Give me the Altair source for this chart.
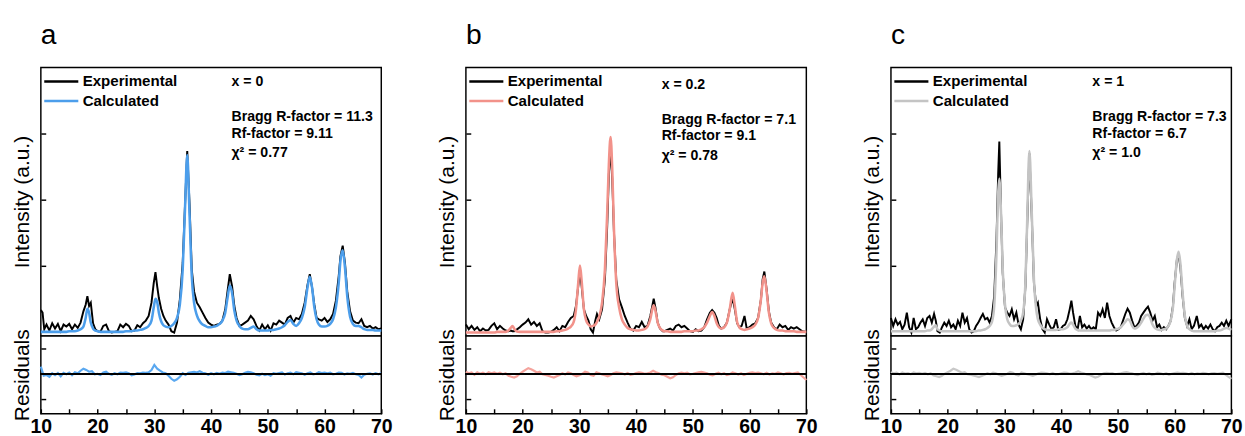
import altair as alt
import pandas as pd

FONT = "Liberation Sans"

# ---------------- panel a (x = 0) ----------------
A_X = [10.0, 10.3, 10.6, 11.0, 11.5, 12.0, 12.5, 13.0, 13.5, 14.0,
       14.5, 15.0, 15.5, 16.0, 16.5, 17.0, 17.5, 17.9, 18.2, 18.5,
       18.8, 19.2, 19.6, 20.0, 20.5, 21.0, 21.5, 22.0, 22.5, 23.0,
       23.5, 24.0, 24.5, 25.0, 25.5, 26.0, 26.5, 27.0, 27.5, 28.0,
       28.5, 29.0, 29.5, 29.9, 30.2, 30.5, 30.8, 31.2, 31.6, 32.0,
       32.5, 33.0, 33.5, 34.0, 34.5, 35.0, 35.4, 35.8, 36.2, 36.6,
       37.0, 37.5, 38.0, 38.5, 39.0, 39.5, 40.0, 40.5, 41.0, 41.5,
       42.0, 42.5, 42.9, 43.3, 43.7, 44.1, 44.5, 45.0, 45.5, 46.0,
       46.5, 47.0, 47.5, 48.0, 48.5, 49.0, 49.5, 50.0, 50.5, 51.0,
       51.5, 52.0, 52.5, 53.0, 53.5, 54.0, 54.5, 55.0, 55.5, 56.0,
       56.5, 57.0, 57.4, 57.8, 58.2, 58.6, 59.0, 59.5, 60.0, 60.5,
       61.0, 61.5, 62.0, 62.5, 62.8, 63.2, 63.6, 64.0, 64.5, 65.0,
       65.5, 66.0, 66.5, 67.0, 67.5, 68.0, 68.5, 69.0, 69.5, 70.0]
A_EXP = [0.34, 0.30, 0.05, 0.12, 0.03, 0.14, 0.06, 0.13, 0.02, 0.12,
         0.09, 0.13, 0.05, 0.12, 0.07, 0.15, 0.32, 0.42, 0.55, 0.40,
         0.45, 0.14, 0.05, 0.02, 0.01, 0.10, 0.12, 0.02, 0.00, 0.01,
         0.02, 0.12, 0.08, 0.13, 0.10, 0.02, 0.03, 0.11, 0.08, 0.14,
         0.18, 0.25, 0.45, 0.75, 0.91, 0.70, 0.52, 0.36, 0.25, 0.18,
         0.12, 0.02, 0.00, 0.15, 0.50, 1.05, 1.90, 2.74, 1.95, 0.95,
         0.62, 0.45, 0.38, 0.30, 0.22, 0.15, 0.12, 0.10, 0.12, 0.13,
         0.18, 0.35, 0.62, 0.88, 0.70, 0.40, 0.22, 0.10, 0.12, 0.15,
         0.18, 0.25, 0.20, 0.10, 0.03, 0.12, 0.05, 0.11, 0.03, 0.14,
         0.12, 0.18, 0.15, 0.12, 0.22, 0.25, 0.15, 0.22, 0.20, 0.28,
         0.45, 0.72, 0.88, 0.68, 0.42, 0.22, 0.20, 0.18, 0.22, 0.16,
         0.20, 0.28, 0.48, 0.85, 1.15, 1.31, 1.05, 0.62, 0.32, 0.18,
         0.15, 0.14, 0.20, 0.10, 0.08, 0.10, 0.06, 0.08, 0.05, 0.06]
A_CALC = [0.01, 0.01, 0.01, 0.01, 0.01, 0.01, 0.01, 0.01, 0.01, 0.01,
          0.01, 0.02, 0.02, 0.02, 0.03, 0.05, 0.09, 0.22, 0.36, 0.30,
          0.15, 0.06, 0.03, 0.02, 0.01, 0.01, 0.01, 0.01, 0.01, 0.01,
          0.01, 0.01, 0.01, 0.02, 0.02, 0.02, 0.03, 0.03, 0.04, 0.05,
          0.07, 0.10, 0.18, 0.38, 0.51, 0.46, 0.30, 0.17, 0.11, 0.09,
          0.08, 0.10, 0.14, 0.22, 0.42, 0.95, 1.85, 2.68, 1.80, 0.85,
          0.45, 0.26, 0.17, 0.12, 0.10, 0.08, 0.08, 0.09, 0.10, 0.13,
          0.18, 0.30, 0.52, 0.71, 0.60, 0.33, 0.18, 0.10, 0.06, 0.05,
          0.05, 0.07, 0.09, 0.05, 0.03, 0.03, 0.03, 0.03, 0.04, 0.04,
          0.05, 0.06, 0.08, 0.11, 0.16, 0.19, 0.13, 0.10, 0.14, 0.22,
          0.38, 0.68, 0.84, 0.68, 0.38, 0.20, 0.12, 0.09, 0.09, 0.10,
          0.13, 0.20, 0.38, 0.75, 1.08, 1.24, 0.98, 0.55, 0.24, 0.13,
          0.10, 0.10, 0.08, 0.05, 0.04, 0.04, 0.04, 0.03, 0.03, 0.03]

# ---------------- panel b (x = 0.2) ----------------
B_X = [10.0, 10.5, 11.0, 11.5, 12.0, 12.5, 13.0, 13.5, 14.0, 14.5,
       15.0, 15.5, 16.0, 16.5, 17.0, 17.5, 17.9, 18.2, 18.5, 18.9,
       19.5, 20.0, 20.5, 21.0, 21.5, 22.0, 22.5, 23.0, 23.5, 24.0,
       24.5, 25.0, 25.5, 26.0, 26.5, 27.0, 27.5, 28.0, 28.5, 29.0,
       29.4, 29.8, 30.1, 30.4, 30.8, 31.2, 31.6, 32.0, 32.4, 32.8,
       33.1, 33.5, 34.0, 34.5, 34.9, 35.2, 35.5, 35.8, 36.1, 36.5,
       37.0, 37.5, 38.0, 38.5, 39.0, 39.5, 40.0, 40.5, 41.0, 41.5,
       42.0, 42.5, 42.8, 43.1, 43.4, 43.8, 44.2, 44.7, 45.0, 45.5,
       46.0, 46.5, 47.0, 47.5, 48.0, 48.5, 49.0, 49.5, 50.0, 50.5,
       51.0, 51.5, 52.0, 52.5, 53.0, 53.4, 53.8, 54.2, 54.6, 55.0,
       55.5, 56.0, 56.5, 57.0, 57.4, 57.8, 58.2, 58.6, 59.1, 59.5,
       60.0, 60.5, 61.0, 61.5, 62.0, 62.3, 62.6, 63.0, 63.4, 63.8,
       64.3, 64.8, 65.3, 65.8, 66.3, 66.8, 67.3, 67.8, 68.3, 68.8,
       69.3, 70.0]
B_EXP = [0.12, 0.05, 0.10, 0.04, 0.08, 0.02, 0.06, 0.03, 0.04, 0.10,
         0.14, 0.05, 0.10, 0.06, 0.03, 0.02, 0.03, 0.02, 0.02, 0.04,
         0.08, 0.12, 0.15, 0.20, 0.12, 0.16, 0.10, 0.14, 0.02, 0.00,
         0.00, 0.01, 0.04, 0.08, 0.02, 0.10, 0.08, 0.16, 0.22, 0.25,
         0.40, 0.70, 0.92, 0.70, 0.35, 0.25, 0.18, 0.05, 0.00, 0.18,
         0.28, 0.20, 0.35, 0.80, 1.60, 2.40, 2.78, 2.30, 1.50, 0.80,
         0.50, 0.38, 0.25, 0.15, 0.06, 0.03, 0.10, 0.08, 0.16, 0.08,
         0.10, 0.25, 0.38, 0.51, 0.38, 0.15, 0.06, 0.02, 0.02, 0.04,
         0.06, 0.03, 0.10, 0.12, 0.08, 0.10, 0.06, 0.02, 0.01, 0.05,
         0.02, 0.03, 0.08, 0.20, 0.30, 0.34, 0.30, 0.22, 0.10, 0.06,
         0.08, 0.15, 0.35, 0.52, 0.35, 0.14, 0.08, 0.10, 0.25, 0.06,
         0.08, 0.12, 0.14, 0.22, 0.50, 0.80, 0.92, 0.65, 0.32, 0.15,
         0.08, 0.05, 0.12, 0.08, 0.10, 0.04, 0.08, 0.06, 0.08, 0.05,
         0.02, 0.01]
B_CALC = [0.00, 0.00, 0.00, 0.00, 0.00, 0.00, 0.00, 0.00, 0.00, 0.00,
          0.00, 0.01, 0.01, 0.01, 0.01, 0.03, 0.07, 0.10, 0.06, 0.02,
          0.01, 0.01, 0.01, 0.01, 0.01, 0.01, 0.01, 0.01, 0.01, 0.01,
          0.01, 0.01, 0.01, 0.02, 0.02, 0.03, 0.04, 0.06, 0.09, 0.16,
          0.35, 0.75, 1.01, 0.78, 0.35, 0.18, 0.12, 0.09, 0.10, 0.12,
          0.16, 0.24, 0.45, 0.95, 1.80, 2.55, 2.95, 2.45, 1.55, 0.75,
          0.38, 0.20, 0.12, 0.07, 0.05, 0.04, 0.03, 0.03, 0.04, 0.05,
          0.09, 0.20, 0.33, 0.41, 0.33, 0.15, 0.07, 0.03, 0.02, 0.02,
          0.01, 0.01, 0.01, 0.01, 0.01, 0.02, 0.02, 0.02, 0.02, 0.03,
          0.03, 0.05, 0.08, 0.15, 0.25, 0.31, 0.25, 0.14, 0.08, 0.06,
          0.08, 0.15, 0.35, 0.60, 0.40, 0.16, 0.08, 0.05, 0.04, 0.05,
          0.06, 0.08, 0.12, 0.22, 0.50, 0.75, 0.85, 0.62, 0.30, 0.14,
          0.07, 0.04, 0.03, 0.03, 0.02, 0.02, 0.02, 0.02, 0.01, 0.01,
          0.01, 0.01]

# ---------------- panel c (x = 1) ----------------
C_X = [10.0, 10.4, 10.8, 11.2, 11.6, 12.0, 12.4, 12.8, 13.2, 13.6,
       14.0, 14.4, 14.8, 15.2, 15.6, 16.0, 16.4, 16.8, 17.2, 17.6,
       17.9, 18.2, 18.6, 19.0, 19.4, 19.8, 20.2, 20.6, 21.0, 21.4,
       21.8, 22.2, 22.6, 23.0, 23.4, 23.8, 24.2, 24.6, 25.0, 25.4,
       25.8, 26.2, 26.6, 27.0, 27.4, 27.8, 28.2, 28.6, 28.9, 29.1,
       29.4, 29.7, 30.1, 30.5, 30.9, 31.3, 31.7, 32.1, 32.5, 32.9,
       33.3, 33.7, 34.0, 34.4, 34.8, 35.2, 35.6, 35.9, 36.3, 36.7,
       37.1, 37.5, 37.9, 38.3, 38.7, 39.1, 39.5, 39.9, 40.3, 40.7,
       41.1, 41.5, 41.8, 42.1, 42.5, 42.9, 43.3, 43.7, 44.1, 44.5,
       44.9, 45.3, 45.7, 46.1, 46.5, 46.9, 47.3, 47.7, 48.1, 48.5,
       48.9, 49.3, 49.7, 50.1, 50.5, 50.9, 51.3, 51.7, 52.1, 52.5,
       52.9, 53.3, 53.7, 54.1, 54.5, 54.9, 55.3, 55.7, 56.1, 56.5,
       56.9, 57.3, 57.7, 58.1, 58.5, 58.9, 59.3, 59.7, 60.0, 60.4,
       60.7, 61.0, 61.4, 61.8, 62.2, 62.6, 63.0, 63.4, 63.9, 64.3,
       64.7, 65.1, 65.5, 65.9, 66.3, 66.7, 67.1, 67.5, 67.9, 68.3,
       68.7, 69.1, 69.5, 70.0]
C_EXP = [0.22, 0.10, 0.20, 0.12, 0.16, 0.05, 0.12, 0.30, 0.08, 0.00,
         0.22, 0.05, 0.08, 0.15, 0.20, 0.10, 0.22, 0.25, 0.15, 0.28,
         0.18, 0.02, 0.00, 0.08, 0.15, 0.10, 0.18, 0.08, 0.12, 0.05,
         0.18, 0.10, 0.30, 0.15, 0.22, 0.05, 0.00, 0.02, 0.10, 0.15,
         0.22, 0.28, 0.20, 0.22, 0.15, 0.25, 0.55, 1.40, 2.40, 2.88,
         1.80, 0.90, 0.38, 0.30, 0.25, 0.35, 0.20, 0.30, 0.12, 0.05,
         0.20, 0.70, 1.60, 2.70, 1.80, 0.75, 0.40, 0.45, 0.20, 0.05,
         0.00, 0.20, 0.12, 0.05, 0.08, 0.20, 0.04, 0.05, 0.10, 0.12,
         0.20, 0.35, 0.48, 0.30, 0.10, 0.05, 0.25, 0.08, 0.12, 0.06,
         0.10, 0.05, 0.08, 0.05, 0.30, 0.25, 0.35, 0.22, 0.45, 0.25,
         0.15, 0.08, 0.03, 0.05, 0.08, 0.18, 0.28, 0.36, 0.30, 0.18,
         0.08, 0.10, 0.15, 0.25, 0.30, 0.35, 0.39, 0.30, 0.18, 0.25,
         0.08, 0.12, 0.04, 0.08, 0.05, 0.10, 0.18, 0.40, 0.75, 1.10,
         1.18, 1.00, 0.55, 0.22, 0.10, 0.20, 0.05, 0.10, 0.25, 0.08,
         0.12, 0.05, 0.10, 0.06, 0.12, 0.05, 0.02, 0.08, 0.10, 0.15,
         0.10, 0.18, 0.10, 0.20]
C_CALC = [0.02, 0.02, 0.02, 0.02, 0.02, 0.02, 0.02, 0.02, 0.02, 0.02,
          0.02, 0.02, 0.02, 0.02, 0.02, 0.02, 0.03, 0.03, 0.05, 0.09,
          0.11, 0.05, 0.03, 0.02, 0.02, 0.02, 0.02, 0.02, 0.02, 0.02,
          0.02, 0.02, 0.02, 0.02, 0.02, 0.02, 0.02, 0.02, 0.02, 0.03,
          0.03, 0.04, 0.05, 0.07, 0.10, 0.16, 0.40, 1.20, 2.10, 2.32,
          1.80, 0.95, 0.42, 0.20, 0.13, 0.10, 0.10, 0.11, 0.13, 0.18,
          0.30, 0.75, 1.65, 2.74, 1.85, 0.80, 0.35, 0.20, 0.12, 0.07,
          0.05, 0.04, 0.04, 0.04, 0.04, 0.04, 0.05, 0.05, 0.05, 0.06,
          0.08, 0.13, 0.15, 0.12, 0.06, 0.04, 0.03, 0.03, 0.03, 0.03,
          0.03, 0.03, 0.03, 0.03, 0.03, 0.03, 0.03, 0.03, 0.03, 0.03,
          0.04, 0.04, 0.05, 0.06, 0.08, 0.12, 0.16, 0.20, 0.18, 0.10,
          0.06, 0.07, 0.10, 0.15, 0.21, 0.26, 0.27, 0.22, 0.12, 0.07,
          0.05, 0.04, 0.04, 0.05, 0.06, 0.10, 0.18, 0.38, 0.70, 1.10,
          1.22, 1.05, 0.60, 0.25, 0.10, 0.05, 0.03, 0.02, 0.02, 0.02,
          0.02, 0.02, 0.02, 0.02, 0.02, 0.02, 0.02, 0.03, 0.03, 0.04,
          0.06, 0.07, 0.06, 0.04]

# ---------------- residuals (shared 0.5 degree grid) ----------------
RES_X = [10.0, 10.5, 11.0, 11.5, 12.0, 12.5, 13.0, 13.5, 14.0, 14.5,
         15.0, 15.5, 16.0, 16.5, 17.0, 17.5, 18.0, 18.5, 19.0, 19.5,
         20.0, 20.5, 21.0, 21.5, 22.0, 22.5, 23.0, 23.5, 24.0, 24.5,
         25.0, 25.5, 26.0, 26.5, 27.0, 27.5, 28.0, 28.5, 29.0, 29.5,
         30.0, 30.5, 31.0, 31.5, 32.0, 32.5, 33.0, 33.5, 34.0, 34.5,
         35.0, 35.5, 36.0, 36.5, 37.0, 37.5, 38.0, 38.5, 39.0, 39.5,
         40.0, 40.5, 41.0, 41.5, 42.0, 42.5, 43.0, 43.5, 44.0, 44.5,
         45.0, 45.5, 46.0, 46.5, 47.0, 47.5, 48.0, 48.5, 49.0, 49.5,
         50.0, 50.5, 51.0, 51.5, 52.0, 52.5, 53.0, 53.5, 54.0, 54.5,
         55.0, 55.5, 56.0, 56.5, 57.0, 57.5, 58.0, 58.5, 59.0, 59.5,
         60.0, 60.5, 61.0, 61.5, 62.0, 62.5, 63.0, 63.5, 64.0, 64.5,
         65.0, 65.5, 66.0, 66.5, 67.0, 67.5, 68.0, 68.5, 69.0, 69.5,
         70.0]
A_RES = [0.28, -0.08, -0.05, -0.12, 0.02, -0.06, 0.03, -0.10, 0.04, -0.02,
         0.05, -0.06, 0.06, 0.02, 0.12, 0.20, 0.15, 0.08, 0.10, -0.02,
         0.00, -0.05, 0.05, 0.08, 0.00, -0.04, 0.02, -0.02, 0.05, 0.04,
         0.06, 0.02, -0.06, -0.03, 0.03, 0.02, 0.05, 0.04, 0.06, 0.15,
         0.35, 0.20, 0.12, 0.05, 0.02, -0.08, -0.20, -0.28, -0.22, -0.12,
         0.02, -0.05, 0.04, 0.06, 0.08, 0.05, 0.10, 0.04, 0.02, -0.04,
         0.02, -0.02, 0.03, 0.00, 0.05, 0.03, 0.08, 0.06, 0.04, 0.00,
         -0.05, -0.02, 0.04, 0.08, 0.06, 0.02, -0.04, -0.06, 0.00, -0.05,
         -0.02, -0.08, 0.02, 0.00, 0.03, 0.05, -0.03, 0.02, 0.04, -0.02,
         0.06, 0.04, 0.02, -0.04, 0.02, 0.05, -0.02, 0.00, 0.06, 0.03,
         0.05, 0.02, 0.04, -0.02, 0.00, 0.05, 0.04, -0.03, 0.02, 0.00,
         0.03, -0.02, -0.05, -0.15, -0.04, 0.00, 0.02, -0.03, 0.02, -0.02,
         0.02]
B_RES = [0.08, 0.02, 0.05, -0.04, 0.06, 0.00, 0.04, -0.02, 0.06, 0.02,
         0.05, 0.00, 0.04, -0.02, 0.02, -0.08, -0.12, -0.15, -0.10, 0.00,
         0.08, 0.15, 0.22, 0.18, 0.12, 0.05, 0.08, -0.02, -0.05, -0.08,
         -0.12, -0.15, -0.10, -0.05, 0.02, -0.03, 0.05, 0.02, -0.05, -0.10,
         -0.06, 0.00, 0.08, 0.05, -0.05, -0.08, 0.06, 0.02, -0.03, -0.06,
         -0.10, -0.05, 0.02, 0.06, 0.04, 0.02, -0.03, 0.03, -0.04, -0.02,
         0.03, 0.06, 0.04, 0.00, 0.02, 0.05, 0.12, 0.06, 0.02, -0.04,
         -0.06, -0.12, -0.18, -0.14, -0.05, 0.02, 0.05, 0.02, 0.04, -0.02,
         0.00, 0.03, 0.06, 0.08, 0.05, 0.02, -0.04, -0.06, 0.00, 0.04,
         -0.02, 0.02, -0.05, -0.02, 0.05, 0.02, -0.03, 0.02, -0.05, 0.00,
         0.04, 0.06, 0.03, 0.05, 0.02, -0.02, 0.04, -0.03, 0.02, 0.00,
         0.05, 0.02, -0.03, 0.03, 0.04, 0.00, 0.03, 0.05, -0.05, -0.15,
         -0.25]
C_RES = [0.06, 0.02, 0.04, -0.03, 0.05, 0.01, 0.03, -0.02, 0.05, 0.02,
         0.04, 0.00, 0.03, -0.02, 0.02, -0.07, -0.10, -0.13, -0.08, 0.00,
         0.06, 0.12, 0.20, 0.16, 0.10, 0.04, 0.06, -0.02, -0.04, -0.07,
         -0.10, -0.13, -0.09, -0.04, 0.02, -0.02, 0.04, 0.02, -0.04, -0.08,
         -0.05, 0.00, 0.07, 0.04, -0.04, -0.07, 0.05, 0.02, -0.02, -0.05,
         -0.08, -0.04, 0.02, 0.05, 0.04, 0.02, -0.02, 0.03, -0.03, -0.02,
         0.02, 0.05, 0.04, 0.00, 0.02, 0.05, 0.10, 0.05, 0.02, -0.03,
         -0.05, -0.10, -0.15, -0.12, -0.04, 0.02, 0.04, 0.02, 0.03, -0.02,
         0.00, 0.02, 0.05, 0.07, 0.04, 0.02, -0.03, -0.05, 0.00, 0.03,
         -0.02, 0.02, -0.04, -0.02, 0.04, 0.02, -0.02, 0.02, -0.04, 0.00,
         0.03, 0.05, 0.03, 0.04, 0.02, -0.02, 0.03, -0.02, 0.02, 0.00,
         0.04, 0.02, -0.02, 0.02, 0.03, 0.00, 0.02, 0.04, -0.04, -0.12,
         -0.20]

# ---------------- annotations ----------------
A_TEXT = ["x = 0", "Bragg R-factor = 11.3", "Rf-factor = 9.11", "χ² = 0.77"]
B_TEXT = ["x = 0.2", "Bragg R-factor = 7.1", "Rf-factor = 9.1", "χ² = 0.78"]
C_TEXT = ["x = 1", "Bragg R-factor = 7.3", "Rf-factor = 6.7", "χ²  = 1.0"]
A_TEXT_Y = [3.78, 3.25, 3.00, 2.71]
B_TEXT_Y = [3.74, 3.21, 2.96, 2.66]
C_TEXT_Y = [3.78, 3.25, 3.00, 2.71]
TEXT_X = {"a": 43.6, "b": 44.5, "c": 45.5}

SERIES = ["Experimental", "Calculated"]
X_LABELS = [10, 20, 30, 40, 50, 60, 70]
X_TICKS = [10, 15, 20, 25, 30, 35, 40, 45, 50, 55, 60, 65, 70]
Y_TICKS = [1, 2, 3]
R_TICKS = [-1, 1]

W, H_TOP, H_BOT = 350, 276, 80


def panel(letter, xs, exp, calc, res, texts, text_y, calc_color, res_color):
    xsc = alt.Scale(domain=[10, 70], nice=False, zero=False)
    ysc = alt.Scale(domain=[-0.05, 4.0], nice=False, zero=False)
    rsc = alt.Scale(domain=[-1.58, 1.5], nice=False, zero=False)
    cscale = alt.Scale(domain=SERIES, range=["black", calc_color])
    legend = alt.Legend(title=None, orient="none", legendX=2, legendY=6,
                        symbolType="stroke", symbolSize=1225, symbolStrokeWidth=2.5,
                        clipHeight=17, labelFont=FONT, labelFontSize=15.5,
                        labelFontWeight="bold", labelColor="black", labelOffset=3,
                        rowPadding=3, padding=0)
    title_axis_kw = dict(ticks=False, labels=False, domain=False, grid=False,
                         titleFont=FONT, titleFontSize=21.5, titleFontWeight="normal",
                         titleColor="black", titlePadding=8)
    tick_kw = dict(title=None, labels=False, domain=False, grid=False, ticks=True,
                   tickSize=5, tickWidth=1.5, tickColor="black", minExtent=0)

    exp_df = pd.DataFrame({"x": xs, "y": exp, "series": SERIES[0]})
    calc_df = pd.DataFrame({"x": xs, "y": calc, "series": SERIES[1]})
    ann_df = pd.DataFrame({"x": TEXT_X[letter], "y": text_y, "t": texts})

    e = alt.Chart(exp_df).mark_line(strokeWidth=2).encode(
        x=alt.X("x:Q", scale=xsc, axis=None),
        y=alt.Y("y:Q", scale=ysc, axis=alt.Axis(title="Intensity (a.u.)", **title_axis_kw)),
        color=alt.Color("series:N", scale=cscale, legend=legend),
    )
    c = alt.Chart(calc_df).mark_line(strokeWidth=2.6, interpolate="monotone").encode(
        x=alt.X("x:Q", scale=xsc, axis=None),
        y=alt.Y("y:Q", scale=ysc, axis=alt.Axis(orient="right", offset=-W, values=Y_TICKS, **tick_kw)),
        color=alt.Color("series:N", scale=cscale, legend=legend),
    )
    t = alt.Chart(ann_df).mark_text(align="left", baseline="middle", font=FONT, fontSize=14.5,
                                    fontWeight="bold", color="black").encode(
        x=alt.X("x:Q", scale=xsc, axis=None),
        y=alt.Y("y:Q", scale=ysc, axis=None),
        text="t:N",
    )
    upper = alt.layer(e, c, t).resolve_axis(y="independent").properties(
        width=W, height=H_TOP,
        title=alt.TitleParams(letter, anchor="start", frame="group", fontSize=29, font=FONT,
                              fontWeight="normal", color="black", offset=18),
    )

    rdf = pd.DataFrame({"x": RES_X, "r": res})
    r1 = alt.Chart(rdf).mark_line(color=res_color, strokeWidth=2.2).encode(
        x=alt.X("x:Q", scale=xsc, axis=alt.Axis(title=None, values=X_LABELS, format="d", ticks=False,
                                                domain=False, grid=False, labelFont=FONT, labelFontSize=20,
                                                labelFontWeight="bold", labelColor="black", labelPadding=3,
                                                labelFlush=False)),
        y=alt.Y("r:Q", scale=rsc, axis=alt.Axis(title="Residuals", **title_axis_kw)),
    )
    r2 = alt.Chart(rdf).mark_line(strokeOpacity=0).encode(
        x=alt.X("x:Q", scale=xsc, axis=alt.Axis(orient="top", offset=-H_BOT, values=X_TICKS, **tick_kw)),
        y=alt.Y("r:Q", scale=rsc, axis=alt.Axis(orient="right", offset=-W, values=R_TICKS, **tick_kw)),
    )
    z = alt.Chart(rdf).mark_rule(color="black", strokeWidth=1.5).encode(
        y=alt.Y(datum=0, scale=rsc, axis=None)
    )
    lower = alt.layer(r1, r2, z).resolve_axis(x="independent", y="independent").properties(
        width=W, height=H_BOT)

    return alt.vconcat(upper, lower, spacing=0, bounds="flush").resolve_scale(color="independent")


pa = panel("a", A_X, A_EXP, A_CALC, A_RES, A_TEXT, A_TEXT_Y, "#4C9EEB", "#5AA8F0")
pb = panel("b", B_X, B_EXP, B_CALC, B_RES, B_TEXT, B_TEXT_Y, "#F2928A", "#F5A39C")
pc = panel("c", C_X, C_EXP, C_CALC, C_RES, C_TEXT, C_TEXT_Y, "#C4C4C4", "#C8C8C8")

chart = alt.hconcat(pa, pb, pc, spacing=44).resolve_scale(color="independent").properties(
    padding={"left": 11, "top": 15, "right": 2, "bottom": 5},
    background="white",
).configure_view(stroke="black", strokeWidth=1.5)

chart.save("out.html", embed_options={"renderer": "svg", "actions": False})
